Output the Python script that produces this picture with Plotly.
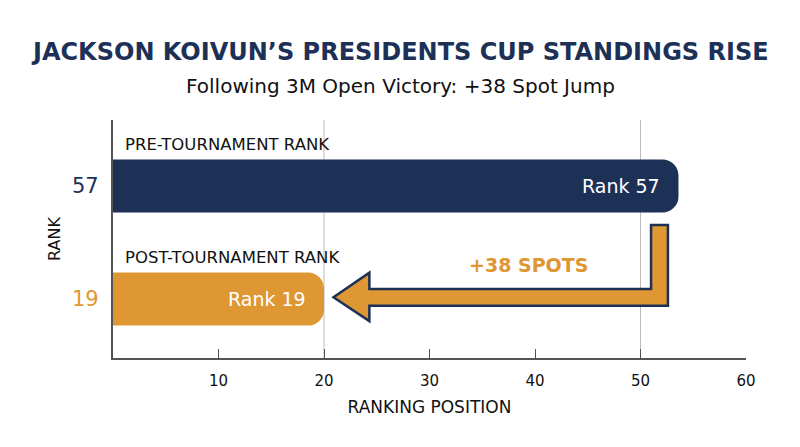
import plotly.graph_objects as go

# ---- data ----
categories = ["POST-TOURNAMENT RANK", "PRE-TOURNAMENT RANK"]
ranks = [19, 57]
bar_extent = [20, 53.6]          # drawn bar length on the ranking-position axis
bar_colors = ["#DF9733", "#1D3157"]
tick_vals_x = [10, 20, 30, 40, 50, 60]
grid_x = [20, 50]
jump_label = "+38 SPOTS"
title_text = "JACKSON KOIVUN’S PRESIDENTS CUP STANDINGS RISE"
subtitle_text = "Following 3M Open Victory: +38 Spot Jump"

NAVY = "#1D3157"
ORANGE = "#DF9733"
FONT = "DejaVu Sans, sans-serif"

W, H = 800, 447
ML, MR, MT, MB = 113, 54, 120, 89
plot_w = W - ML - MR
plot_h = H - MT - MB

ypos = [0, 1]

fig = go.Figure()
fig.add_trace(go.Bar(
    x=bar_extent, y=ypos, orientation="h",
    marker=dict(color=bar_colors, line=dict(width=0)),
    width=0.47,
    hoverinfo="skip",
))

shapes = []
for g in grid_x:
    shapes.append(dict(type="line", xref="x", yref="paper", x0=g, x1=g, y0=0, y1=1,
                       line=dict(color="#BBBBBB", width=1), layer="below"))

# bent arrow (decoration)
ax = [52.6, 52.6, 24.3, 24.3, 20.9, 24.3, 24.3, 51.0, 51.0]
ay = [0.655, -0.059, -0.059, -0.195, 0.015, 0.233, 0.088, 0.088, 0.655]
path = "M " + " L ".join(f"{x},{y}" for x, y in zip(ax, ay)) + " Z"
shapes.append(dict(type="path", xref="x", yref="y", path=path,
                   fillcolor=ORANGE, line=dict(color=NAVY, width=2.5), layer="above"))

annotations = []
for yv, c in zip(ypos, categories):
    annotations.append(dict(x=0, y=yv + 0.37, xref="x", yref="y", text=c, showarrow=False,
                            xanchor="left", yanchor="middle", xshift=10,
                            font=dict(size=16.5, color="#111111", family=FONT)))
for yv, r, col in zip(ypos, ranks, bar_colors):
    annotations.append(dict(x=0, y=yv, xref="paper", yref="y", text=str(r), showarrow=False,
                            xanchor="right", yanchor="middle", xshift=-12,
                            font=dict(size=21, color=col, family=FONT)))
# in-bar labels
for yv, r, e in zip(ypos, ranks, bar_extent):
    annotations.append(dict(x=e, y=yv, xref="x", yref="y", text=f"Rank {r}", showarrow=False,
                            xanchor="right", yanchor="middle", xshift=-16,
                            font=dict(size=19, color="white", family=FONT)))
annotations.append(dict(x=39.4, y=0.30, xref="x", yref="y", text=f"<b>{jump_label}</b>",
                        showarrow=False, font=dict(size=19, color=ORANGE, family=FONT)))
# titles (centered on the page)
cx = (W / 2 - ML) / plot_w
annotations.append(dict(x=cx, y=1 + (MT - 52) / plot_h, xref="paper", yref="paper",
                        text=f"<b>{title_text}</b>", showarrow=False, xanchor="center",
                        yanchor="middle", font=dict(size=24, color=NAVY, family=FONT)))
annotations.append(dict(x=cx, y=1 + (MT - 86) / plot_h, xref="paper", yref="paper",
                        text=subtitle_text, showarrow=False, xanchor="center",
                        yanchor="middle", font=dict(size=20, color="#111111", family=FONT)))

fig.update_layout(
    width=W, height=H,
    margin=dict(l=ML, r=MR, t=MT, b=MB),
    paper_bgcolor="white", plot_bgcolor="white",
    barcornerradius=16,
    showlegend=False,
    font=dict(family=FONT, color="#111111"),
    xaxis=dict(range=[0, 60], tickvals=tick_vals_x, ticks="inside", ticklen=9,
               tickcolor="#555555", showline=True, linecolor="#555555", linewidth=1.5,
               showgrid=False, zeroline=False, ticklabelstandoff=8,
               tickfont=dict(size=15, color="#111111", family=FONT),
               title=dict(text="RANKING POSITION", font=dict(size=17, color="#111111", family=FONT),
                          standoff=12)),
    yaxis=dict(range=[-0.522, 1.584], showticklabels=False, ticks="", showline=True,
               linecolor="#555555", linewidth=1.5, showgrid=False, zeroline=False,
               title=dict(text="RANK", font=dict(size=16, color="#111111", family=FONT),
                          standoff=47)),
    shapes=shapes,
    annotations=annotations,
)

fig.write_html("out.html", config={"displayModeBar": False},
               post_script="document.body.style.margin='0';")
